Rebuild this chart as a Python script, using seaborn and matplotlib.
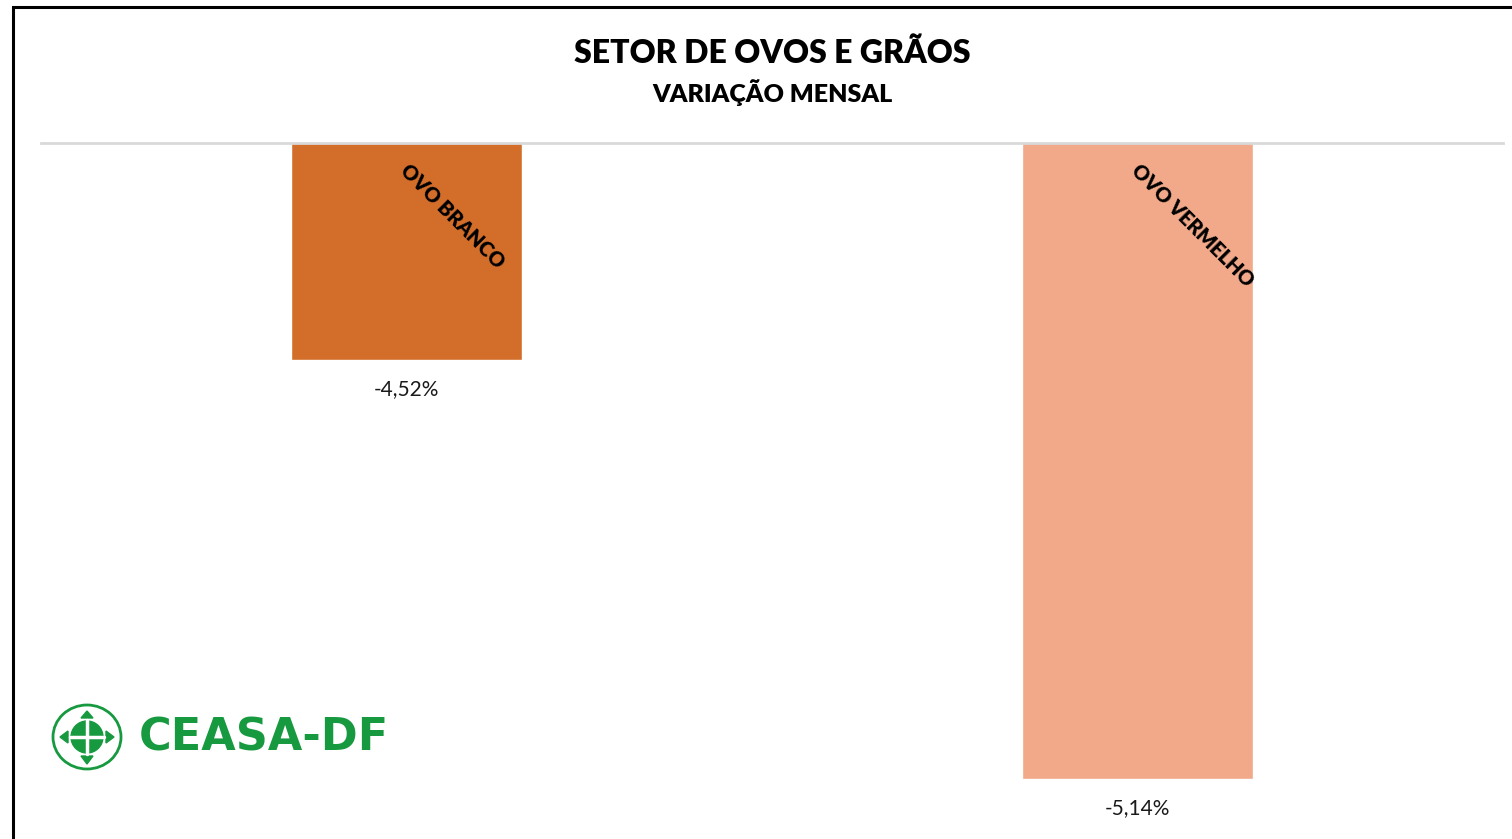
import matplotlib
matplotlib.use("Agg")
import matplotlib.pyplot as plt
import matplotlib.patches as mpatches
import matplotlib.transforms as mtransforms
import seaborn as sns
import pandas as pd

categories = ["OVO BRANCO", "OVO VERMELHO"]
values = [-4.52, -5.14]
value_labels = ["-4,52%", "-5,14%"]
colors = ["#D36E2A", "#F1A98A"]
title = "SETOR DE OVOS E GRÃOS"
subtitle = "VARIAÇÃO MENSAL"

W, H = 1512, 839
sns.set_theme(style="white")
plt.rcParams["font.family"] = ["Lato", "DejaVu Sans"]

fig = plt.figure(figsize=(W / 100, H / 100), dpi=100)
fig.patch.set_facecolor("white")

ax = fig.add_axes([41 / W, 1 - 820 / H, (1503 - 41) / W, (820 - 143) / H])
df = pd.DataFrame({"cat": categories, "val": values})
sns.barplot(data=df, x="cat", y="val", hue="cat", palette=colors, width=0.315,
            legend=False, ax=ax, saturation=1)
ax.set_ylim(-5.2, -4.2)
ax.set_xlim(-0.5, 1.5)
ax.set_xlabel("")
ax.set_ylabel("")
ax.set_xticks([])
ax.set_yticks([])
for s in ["left", "right", "bottom"]:
    ax.spines[s].set_visible(False)
ax.spines["top"].set_color("#D9D9D9")
ax.spines["top"].set_linewidth(2)
ax.set_facecolor("none")

trans = mtransforms.blended_transform_factory(ax.transData, ax.transAxes)
for i, (c, v, lab) in enumerate(zip(categories, values, value_labels)):
    ax.annotate(lab, xy=(i, v), xytext=(0, -29 * 0.72), textcoords="offset points",
                ha="center", va="center", fontsize=15, color="#1a1a1a")
    ax.text(i - 0.004, 1 - 24 / 677, c, transform=trans, rotation=-45,
            rotation_mode="anchor", ha="left", va="center", fontsize=14.5,
            fontweight="heavy", color="black")

fig.text(772 / W, 1 - 53 / H, title, ha="center", va="center", fontsize=23,
         fontweight="heavy", color="black")
fig.text(772 / W, 1 - 93 / H, subtitle, ha="center", va="center", fontsize=18,
         fontweight="heavy", color="black")

# frame
fig.add_artist(mpatches.Rectangle((12.5 / W, -0.2), 2, 1.2 - 7.5 / H, transform=fig.transFigure,
                                  fill=False, edgecolor="black", linewidth=2.2, clip_on=False))

# logo
green = "#17993F"
lax = fig.add_axes([50 / W, 1 - 775 / H, 75 / W, 75 / H])
lax.set_xlim(50, 125)
lax.set_ylim(775, 700)
lax.axis("off")
lax.add_patch(mpatches.Ellipse((87, 737), 68, 64, fill=False, edgecolor=green, linewidth=2))
lax.add_patch(mpatches.Circle((87, 737), 16, color=green))
lax.plot([70, 104], [737, 737], color="white", linewidth=2.5)
lax.plot([87, 87], [720, 754], color="white", linewidth=2.5)
for tri in ([(81, 718), (93, 718), (87, 711)], [(81, 756), (93, 756), (87, 764)],
            [(68, 731), (68, 743), (60, 737)], [(106, 731), (106, 743), (114, 737)]):
    lax.add_patch(mpatches.Polygon(tri, color=green))
fig.text(139 / W, 1 - 738 / H, "CEASA-DF", ha="left", va="center", fontsize=32,
         fontweight="bold", color=green, family=["DejaVu Sans"])

fig.savefig("out.png", dpi=100)
